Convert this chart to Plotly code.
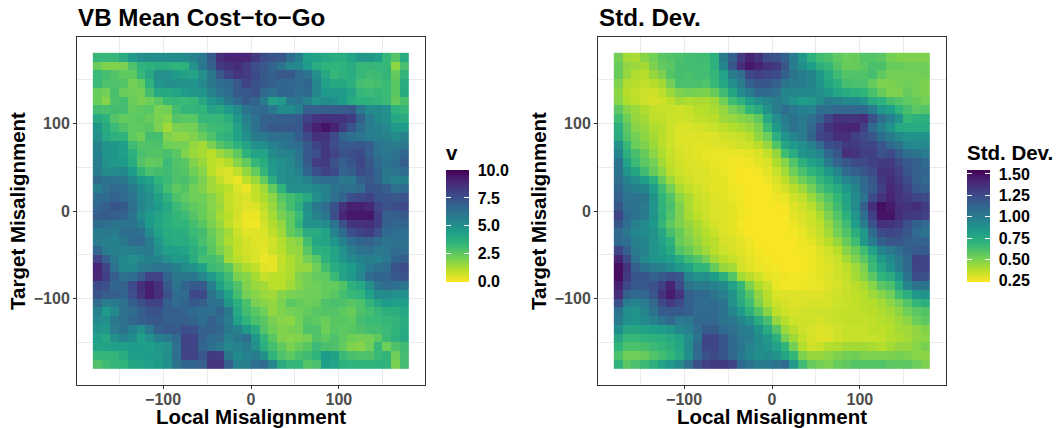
import plotly.graph_objects as go

centers_x = list(range(-175, 176, 10))
centers_y = list(range(175, -176, -10))
major_ticks = [-100, 0, 100]
minor_ticks = [-150, -50, 50, 150]
v_ticks = [0.0, 2.5, 5.0, 7.5, 10.0]
v_labels = ["0.0", "2.5", "5.0", "7.5", "10.0"]
sd_ticks = [0.25, 0.50, 0.75, 1.00, 1.25, 1.50]
sd_labels = ["0.25", "0.50", "0.75", "1.00", "1.25", "1.50"]

mean_cost = [
[3.3,3.3,3.3,3.9,4.6,5.0, 5.1,5.1,5.1,5.2,5.2,5.5, 6.0,7.2,8.7,9.0,9.0,9.0, 8.3,7.7,7.4,7.3,6.5,5.7, 4.4,4.3,4.0,3.8,3.8,4.2, 4.7,4.7,4.4,3.3,2.7,3.8],
[2.3,1.9,1.9,2.0,2.8,3.5, 3.6,3.8,3.7,3.5,3.6,4.9, 6.0,7.0,8.3,8.6,8.8,8.2, 7.6,7.3,6.8,6.2,5.4,5.3, 4.6,3.8,3.5,3.5,3.6,3.8, 3.3,3.3,3.3,3.3,1.7,2.9],
[3.2,3.0,2.7,2.5,2.5,3.3, 4.0,5.0,5.0,4.5,4.3,4.2, 5.0,6.0,7.3,8.0,8.5,8.2, 7.8,7.3,7.0,7.3,7.2,6.6, 6.2,5.0,4.0,3.3,3.6,3.8, 3.3,3.1,3.2,3.4,2.4,3.4],
[3.2,2.8,2.8,2.7,2.1,2.4, 3.6,4.8,5.0,5.0,4.9,4.8, 5.3,6.0,6.4,6.6,7.3,8.0, 7.5,7.2,7.0,6.7,6.7,6.5, 6.7,5.4,4.4,4.0,4.0,3.7, 3.0,2.9,3.0,3.2,2.6,3.8],
[2.3,2.1,2.9,2.3,2.2,2.1, 3.0,4.0,4.0,4.2,4.6,4.7, 4.8,5.5,6.1,6.5,7.2,7.3, 7.5,6.6,6.3,6.8,6.7,6.4, 6.6,5.4,4.6,4.6,4.6,4.2, 3.3,3.2,3.3,3.2,2.6,3.9],
[2.3,1.8,2.8,3.0,2.3,2.0, 2.2,2.6,3.2,3.3,3.2,3.3, 4.0,4.8,5.2,6.0,6.6,7.2, 6.8,5.8,4.3,4.6,6.0,6.2, 5.5,4.8,5.2,5.0,4.5,3.9, 3.6,3.6,3.4,3.2,2.4,2.9],
[3.0,2.9,3.0,3.0,2.4,2.5, 2.6,2.0,2.1,3.0,3.4,3.4, 3.5,4.2,4.0,4.6,5.2,6.2, 6.6,6.6,6.0,5.2,5.2,5.6, 7.0,7.0,7.0,7.0,7.1,7.3, 6.0,5.2,5.2,5.0,3.6,3.3],
[4.0,3.6,2.7,2.4,2.5,2.6, 2.3,2.0,1.8,2.7,2.6,2.6, 3.3,3.3,3.3,3.7,4.7,5.6, 6.3,6.9,6.9,7.0,7.0,7.2, 8.0,8.5,8.7,8.6,8.6,8.2, 7.0,5.8,5.2,5.0,4.0,3.9],
[4.7,3.9,3.2,2.8,2.5,2.5, 2.6,2.0,1.4,2.0,2.1,2.1, 2.8,3.1,3.2,3.3,4.3,5.3, 6.3,6.9,7.3,7.2,7.3,7.2, 8.5,9.1,9.5,9.1,8.3,7.4, 6.5,5.8,5.6,5.3,4.6,4.5],
[5.0,4.0,3.6,3.5,2.5,2.2, 3.0,3.0,1.9,1.7,1.7,1.9, 2.3,2.8,3.4,3.6,4.3,5.0, 5.8,5.9,6.3,6.3,6.4,7.1, 7.8,8.6,8.5,7.7,6.7,6.4, 6.1,5.8,5.7,5.5,5.2,5.5],
[5.5,4.9,4.7,4.4,3.1,2.7, 2.8,2.8,2.2,2.1,2.1,1.6, 1.4,2.0,2.7,3.0,3.6,4.2, 5.0,5.1,5.6,6.0,6.3,6.5, 7.2,8.0,8.3,7.6,7.2,7.2, 7.3,7.0,6.2,6.0,5.8,6.0],
[5.6,4.8,4.7,4.4,3.7,2.9, 2.7,2.7,2.9,2.6,1.9,1.5, 1.3,1.0,1.5,1.8,2.5,3.6, 4.2,4.2,5.2,5.5,5.6,6.2, 7.2,7.6,8.4,8.0,7.5,7.6, 7.7,7.0,6.3,6.0,6.3,6.7],
[5.8,5.0,4.7,4.6,3.9,2.7, 2.4,2.5,3.2,2.7,2.6,1.9, 1.5,1.0,0.8,1.1,1.8,2.4, 3.3,3.8,4.7,5.0,5.3,6.0, 7.2,8.2,8.3,7.5,7.0,7.4, 7.9,7.3,6.6,6.2,6.5,7.0],
[5.8,5.2,5.2,5.3,4.5,3.4, 2.9,3.0,3.1,2.8,2.7,2.2, 1.8,1.0,0.6,0.5,0.9,1.6, 2.4,3.4,4.6,5.0,5.2,5.6, 6.8,7.6,8.0,7.8,6.8,7.0, 7.7,7.4,6.8,6.0,6.1,6.5],
[6.5,6.2,6.2,6.0,5.3,4.6, 4.3,3.5,3.2,2.8,2.9,2.5, 2.0,1.4,0.9,0.5,0.2,1.0, 1.5,2.4,3.8,5.0,5.2,5.2, 5.5,6.3,6.5,6.5,6.0,6.0, 7.0,7.3,6.8,6.0,5.5,5.6],
[5.7,6.3,6.6,6.4,5.9,5.2, 4.7,3.9,3.0,2.5,2.7,2.2, 1.9,1.4,1.2,1.0,0.5,0.2, 0.9,1.4,2.4,3.5,5.0,5.0, 5.0,5.3,5.5,6.2,6.4,6.3, 6.5,7.4,7.3,7.0,6.3,6.5],
[6.5,6.6,6.9,6.6,6.2,5.4, 5.0,4.3,3.6,2.8,2.5,2.2, 2.2,1.8,1.4,0.8,0.6,0.5, 0.8,1.2,1.7,2.6,3.0,3.4, 4.0,5.0,5.5,6.3,6.8,7.6, 7.8,8.0,7.4,7.4,7.3,7.4],
[6.7,7.0,7.4,7.2,6.4,5.4, 5.0,4.5,4.0,3.2,2.8,2.5, 2.3,1.8,1.5,0.9,0.6,0.4, 0.5,0.9,1.5,2.3,3.0,3.7, 5.0,6.0,6.5,7.5,8.6,9.2, 9.1,8.9,7.9,7.5,7.6,7.8],
[7.0,7.1,7.0,6.8,6.2,5.1, 4.5,4.2,3.8,3.4,3.2,2.7, 2.3,1.9,1.3,1.0,0.6,0.2, 0.2,0.7,1.3,2.0,2.5,3.2, 4.8,5.5,6.0,7.6,9.0,9.4, 9.4,9.4,8.2,7.0,7.0,7.2],
[6.5,6.4,6.2,6.2,6.2,5.6, 4.6,4.1,3.7,3.5,3.5,3.0, 2.6,2.0,1.5,0.9,0.5,0.2, 0.1,0.6,1.1,1.6,2.5,3.5, 4.9,4.9,5.2,6.2,7.5,8.5, 8.6,8.7,8.2,7.0,6.7,6.8],
[5.9,6.0,5.8,6.4,6.5,6.3, 5.2,4.3,3.9,3.8,3.7,3.2, 3.0,2.3,1.8,1.4,0.7,0.4, 0.4,0.5,0.9,1.4,2.4,2.8, 3.8,3.8,4.2,5.5,6.6,7.6, 8.0,8.2,7.5,6.6,6.4,6.4],
[5.8,5.7,5.6,6.0,6.5,6.6, 5.8,4.7,4.0,3.8,3.8,3.5, 2.9,2.5,1.8,1.2,0.9,0.6, 0.4,0.4,0.6,1.1,1.6,1.8, 3.0,4.0,4.2,4.8,5.6,6.4, 6.8,6.9,6.6,6.2,6.3,6.3],
[6.7,5.8,5.7,5.6,5.7,5.8, 6.0,5.0,4.4,4.4,4.2,3.7, 3.3,2.6,2.0,1.5,0.8,0.6, 0.5,0.3,0.7,1.0,1.5,1.6, 2.6,3.6,3.7,4.2,5.0,5.7, 6.2,6.3,6.0,6.1,6.5,6.5],
[8.0,7.0,6.0,5.3,5.0,5.3, 5.6,5.5,5.0,4.6,4.7,3.9, 3.0,3.0,2.7,1.4,1.0,0.7, 0.5,0.2,0.3,0.8,1.2,1.5, 2.1,2.6,3.6,4.2,4.8,5.2, 5.6,5.7,5.5,6.0,6.8,7.0],
[9.0,8.0,6.3,5.3,5.3,5.8, 6.0,6.2,6.1,5.7,5.1,4.9, 4.3,3.2,3.0,2.6,1.6,1.2, 0.9,0.4,0.3,0.9,1.2,1.5, 1.6,2.2,3.0,3.8,4.2,4.5, 5.2,5.9,6.3,6.5,7.4,7.7],
[8.9,8.1,7.0,6.3,6.4,7.0, 8.0,8.0,6.8,6.0,6.0,6.0, 5.3,4.6,3.8,3.1,2.0,1.8, 1.3,0.8,1.0,1.0,1.2,1.9, 2.1,2.4,2.5,3.2,4.2,4.6, 5.4,6.5,6.8,6.8,7.2,7.4],
[7.8,7.6,6.7,6.9,7.8,8.7, 9.2,8.6,7.2,6.2,6.8,7.2, 7.2,5.7,4.3,3.5,2.8,1.9, 1.5,1.4,1.0,1.0,1.4,1.8, 2.1,2.2,2.4,2.4,2.7,3.6, 4.0,5.0,6.2,6.5,6.3,6.2],
[7.4,7.1,7.0,6.8,7.6,8.5, 9.2,8.7,7.5,6.5,6.6,7.8, 7.8,6.2,5.3,4.3,3.0,2.1, 1.8,1.5,1.4,1.8,2.0,2.1, 2.2,2.2,2.4,2.6,3.0,3.3, 3.5,4.4,5.2,5.2,5.0,5.0],
[6.5,5.7,5.8,6.3,7.0,7.5, 8.0,8.0,7.0,6.6,6.8,7.2, 7.0,6.3,6.2,4.7,3.7,2.9, 2.0,1.8,1.6,2.0,2.6,2.4, 2.2,2.3,2.8,2.9,2.8,2.6, 2.8,3.4,4.1,4.5,4.4,4.4],
[5.5,4.6,5.2,6.3,6.5,7.0, 7.4,7.5,7.0,7.0,6.8,6.6, 6.4,6.4,6.8,6.0,4.0,3.0, 2.6,2.2,1.6,1.9,2.1,2.2, 2.4,2.6,2.7,2.7,2.5,2.3, 2.8,3.0,3.3,3.7,3.7,4.0],
[5.2,5.0,6.0,6.3,6.7,7.0, 7.2,7.3,7.0,7.0,7.0,6.8, 6.4,7.0,6.5,5.8,4.4,3.5, 2.9,2.6,2.0,1.8,1.7,2.2, 2.6,2.5,2.3,2.6,2.6,2.5, 3.0,3.2,3.2,3.3,3.4,3.8],
[4.8,4.7,5.8,6.2,5.6,5.0, 6.0,7.0,7.2,7.2,7.6,7.5, 6.9,6.9,6.7,6.0,5.5,4.7, 3.9,2.7,2.2,1.9,2.0,2.1, 2.8,2.8,2.2,2.6,2.5,2.6, 2.8,3.0,3.0,3.2,3.5,3.9],
[4.4,4.0,4.9,5.5,5.2,4.4, 5.0,5.7,5.9,6.6,8.0,8.0, 7.0,6.5,6.5,5.5,6.0,6.4, 4.7,3.5,2.6,1.9,1.8,1.9, 2.1,2.7,2.5,2.8,2.5,2.2, 2.1,2.1,2.5,3.2,3.6,4.0],
[4.2,4.3,4.4,4.4,4.5,4.5, 4.4,4.7,4.9,6.3,8.0,7.9, 6.8,6.3,6.0,5.3,5.5,5.8, 5.0,3.7,3.0,2.5,2.0,2.3, 2.6,3.2,2.9,2.8,2.4,1.9, 1.8,2.2,3.3,2.2,2.8,3.1],
[3.3,3.4,3.4,3.8,4.4,4.4, 4.5,4.6,5.0,6.4,8.0,8.0, 7.3,8.3,8.2,6.0,5.2,5.6, 5.8,5.0,3.5,2.8,2.5,2.9, 3.1,3.5,4.5,4.3,3.2,2.9, 2.8,2.8,3.2,3.4,2.2,3.0],
[2.8,3.1,3.3,3.5,4.1,4.2, 4.4,4.5,5.0,6.2,6.7,6.8, 7.0,8.5,8.5,7.0,5.6,5.7, 6.4,6.6,5.4,3.9,3.3,3.4, 2.7,2.9,4.4,4.2,3.6,3.5, 3.5,3.5,3.6,3.5,2.0,3.0],
]

std_dev = [
[.52,.42,.41,.48,.52,.58, .6,.62,.64,.65,.65,.72, 1.0,1.15,1.32,1.42,1.35,1.25, 1.22,1.15,1.0,.85,.72,.65, .62,.57,.54,.55,.6,.6, .58,.52,.5,.5,.5,.5],
[.55,.46,.44,.42,.5,.56, .58,.63,.64,.64,.64,.72, .95,1.2,1.38,1.46,1.42,1.35, 1.33,1.2,1.0,.9,.82,.72, .68,.6,.55,.55,.58,.62, .62,.55,.55,.53,.53,.53],
[.55,.45,.4,.38,.45,.5, .6,.63,.62,.64,.64,.68, .8,1.0,1.07,1.27,1.3,1.27, 1.25,1.15,1.05,1.0,.95,.85, .75,.65,.6,.6,.6,.63, .57,.52,.52,.52,.52,.53],
[.5,.4,.38,.36,.38,.42, .52,.62,.62,.62,.61,.67, .77,.9,1.0,1.15,1.2,1.2, 1.15,1.05,1.0,1.0,.95,.87, .78,.72,.63,.62,.62,.55, .5,.5,.52,.53,.52,.5],
[.47,.38,.36,.34,.33,.37, .44,.5,.52,.51,.5,.55, .65,.78,.92,1.0,1.1,1.1, 1.07,.95,.95,.93,.93,.9, .85,.78,.75,.72,.7,.62, .55,.5,.5,.55,.52,.5],
[.48,.4,.37,.34,.32,.33, .37,.42,.4,.41,.41,.43, .53,.65,.72,.82,.9,.95, 1.0,.95,.88,.82,.85,.92, 1.0,.97,.93,.93,.88,.75, .72,.63,.6,.57,.55,.52],
[.58,.48,.44,.4,.36,.35, .35,.33,.35,.38,.39,.41, .45,.52,.57,.68,.75,.88, 1.0,1.08,1.02,.98,.97,1.08, 1.08,1.12,1.12,1.12,1.1,1.0, .85,.82,.7,.63,.58,.6],
[.65,.53,.45,.42,.37,.36, .34,.33,.34,.36,.37,.38, .43,.45,.48,.5,.57,.76, .9,1.0,1.05,1.02,1.07,1.15, 1.28,1.36,1.35,1.35,1.38,1.22, 1.07,.97,.87,.68,.72,.72],
[.72,.58,.48,.45,.4,.38, .34,.31,.31,.32,.33,.35, .37,.39,.41,.44,.5,.66, .84,.97,1.05,1.0,1.12,1.25, 1.35,1.4,1.42,1.42,1.3,1.1, .98,.88,.77,.75,.75,.75],
[.75,.6,.52,.47,.42,.38, .34,.31,.3,.3,.3,.31, .33,.34,.35,.38,.46,.54, .73,.87,.95,1.0,1.13,1.27, 1.3,1.38,1.38,1.3,1.25,1.2, 1.08,1.0,.92,.88,.88,.88],
[.88,.67,.54,.5,.44,.38, .34,.31,.3,.29,.29,.3, .3,.32,.33,.34,.38,.45, .6,.78,.85,.9,.98,1.1, 1.23,1.25,1.33,1.32,1.28,1.27, 1.2,1.1,1.05,.95,.93,.93],
[.95,.72,.63,.55,.47,.4, .35,.32,.3,.29,.28,.28, .28,.28,.28,.29,.31,.36, .45,.65,.75,.87,.9,.95, 1.1,1.2,1.38,1.35,1.3,1.3, 1.22,1.25,1.15,1.08,1.05,1.0],
[1.05,.8,.66,.58,.52,.42, .36,.33,.31,.3,.29,.28, .27,.26,.26,.27,.29,.31, .4,.48,.6,.72,.8,.85, 1.0,1.13,1.2,1.25,1.25,1.3, 1.32,1.32,1.25,1.18,1.15,1.1],
[1.05,.88,.78,.65,.55,.47, .38,.34,.32,.31,.31,.29, .28,.26,.25,.25,.26,.29, .35,.42,.53,.62,.7,.75, .85,.95,1.1,1.15,1.2,1.25, 1.35,1.35,1.3,1.2,1.15,1.13],
[1.08,.97,.9,.82,.72,.55, .44,.36,.33,.31,.3,.29, .29,.26,.25,.25,.25,.27, .31,.37,.45,.53,.6,.68, .75,.85,.95,1.02,1.12,1.2, 1.33,1.38,1.32,1.25,1.15,1.12],
[1.12,1.02,.98,.95,.82,.65, .52,.41,.36,.33,.31,.29, .29,.27,.26,.25,.25,.25, .29,.32,.38,.43,.52,.62, .68,.75,.85,.95,1.1,1.17, 1.3,1.4,1.35,1.28,1.18,1.15],
[1.15,1.05,1.05,1.05,.88,.7, .6,.47,.41,.35,.33,.3, .29,.28,.26,.25,.25,.25, .27,.28,.33,.36,.44,.52, .6,.68,.8,.92,1.05,1.25, 1.35,1.42,1.35,1.32,1.28,1.25],
[1.2,1.07,1.05,1.02,.87,.7, .62,.5,.41,.35,.33,.31, .3,.29,.27,.25,.25,.25, .25,.26,.3,.33,.38,.46, .55,.65,.78,.92,1.15,1.38, 1.5,1.45,1.38,1.35,1.38,1.32],
[1.27,1.1,1.05,1.0,.87,.72, .6,.5,.42,.37,.34,.31, .3,.29,.27,.25,.25,.25, .25,.25,.29,.31,.34,.4, .5,.6,.72,.87,1.08,1.3, 1.48,1.48,1.38,1.33,1.32,1.3],
[1.2,1.08,.98,.93,.85,.68, .57,.5,.45,.41,.36,.32, .3,.29,.26,.25,.25,.25, .25,.25,.27,.3,.33,.37, .45,.55,.65,.82,1.0,1.22, 1.38,1.36,1.32,1.22,1.15,1.1],
[1.1,1.03,.95,.92,.88,.77, .63,.55,.48,.42,.39,.35, .31,.29,.27,.25,.25,.25, .25,.25,.26,.28,.32,.36, .42,.52,.6,.73,.85,1.1, 1.25,1.27,1.25,1.2,1.1,1.05],
[1.1,1.08,.98,.95,.88,.8, .72,.55,.5,.45,.4,.38, .32,.31,.29,.27,.25,.25, .25,.25,.25,.27,.29,.33, .38,.45,.55,.65,.85,1.0, 1.15,1.2,1.2,1.15,1.15,1.13],
[1.28,1.15,1.0,.96,.88,.83, .76,.6,.55,.48,.43,.38, .34,.32,.3,.28,.26,.25, .25,.25,.25,.26,.27,.3, .33,.38,.48,.55,.65,.8, .95,1.02,1.08,1.15,1.18,1.18],
[1.42,1.25,1.05,.93,.87,.85, .82,.75,.65,.6,.52,.43, .38,.35,.32,.29,.27,.26, .25,.25,.25,.25,.27,.29, .32,.35,.42,.5,.58,.7, .85,.93,1.02,1.1,1.3,1.28],
[1.5,1.35,1.15,1.05,1.0,.98, .92,.85,.8,.7,.68,.55, .45,.42,.33,.3,.28,.27, .26,.25,.25,.25,.27,.29, .3,.33,.37,.43,.5,.66, .78,.88,1.0,1.1,1.28,1.28],
[1.5,1.33,1.2,1.2,1.15,1.18, 1.22,1.2,.95,.88,.9,.83, .73,.6,.42,.38,.33,.29, .28,.27,.26,.26,.28,.29, .31,.33,.36,.42,.48,.58, .7,.75,.87,1.05,1.25,1.22],
[1.43,1.27,1.18,1.18,1.22,1.3, 1.42,1.25,1.05,1.0,1.0,.97, .92,.8,.68,.5,.4,.35, .28,.26,.26,.27,.28,.28, .3,.32,.35,.38,.41,.48, .58,.62,.76,.95,1.05,1.05],
[1.38,1.15,1.1,1.12,1.2,1.35, 1.45,1.35,1.15,1.12,1.1,1.05, .98,.88,.72,.6,.46,.38, .31,.3,.3,.3,.3,.3, .32,.33,.35,.37,.39,.43, .48,.53,.65,.73,.86,.88],
[1.22,1.0,.95,1.0,1.12,1.25, 1.32,1.25,1.15,1.1,1.08,1.1, 1.05,.88,.75,.65,.5,.4, .34,.32,.3,.31,.32,.32, .32,.34,.35,.36,.38,.39, .42,.47,.52,.6,.68,.72],
[1.05,.9,.87,.95,1.05,1.18, 1.18,1.18,1.15,1.1,1.1,1.1, 1.05,.95,.85,.72,.6,.48, .37,.33,.32,.33,.33,.34, .34,.35,.36,.36,.37,.38, .4,.42,.47,.53,.58,.6],
[1.0,.9,.87,.92,.98,1.05, 1.12,1.02,1.03,1.12,1.12,1.12, 1.05,1.02,.95,.88,.75,.63, .45,.38,.34,.33,.33,.32, .34,.35,.36,.36,.36,.37, .39,.4,.43,.47,.54,.57],
[.9,.78,.78,.8,.82,.83, .86,.94,.98,1.07,1.17,1.17, 1.1,1.07,1.02,.98,.88,.75, .6,.44,.38,.34,.32,.3, .31,.33,.35,.35,.35,.37, .37,.39,.42,.43,.46,.49],
[.78,.67,.67,.7,.72,.72, .76,.8,.9,1.05,1.27,1.27, 1.2,1.1,1.03,1.0,.92,.85, .73,.52,.43,.36,.32,.3, .3,.33,.35,.35,.35,.35, .36,.39,.4,.42,.46,.47],
[.7,.62,.62,.63,.66,.68, .72,.78,.92,1.1,1.27,1.27, 1.2,1.1,1.05,.97,.92,.88, .8,.7,.52,.39,.33,.35, .39,.4,.42,.42,.42,.41, .39,.42,.45,.45,.48,.51],
[.62,.53,.53,.55,.6,.64, .68,.75,.9,1.1,1.22,1.25, 1.2,1.12,1.02,.95,.9,.92, .88,.78,.68,.5,.45,.45, .47,.5,.52,.53,.5,.5, .5,.5,.52,.5,.48,.47],
[.7,.58,.62,.66,.72,.8, .85,.92,1.07,1.22,1.3,1.32, 1.32,1.27,1.1,1.05,1.0,1.02, 1.05,1.1,.85,.65,.55,.52, .5,.55,.57,.6,.6,.6, .6,.58,.57,.58,.54,.5],
]

W, H = 1057, 428
FONT = "Liberation Sans"
PX = lambda p: p / W
PY = lambda p: 1 - p / H
V_RANGE = (-0.06, 10.05)
SD_RANGE = (0.24, 1.55)
BAR_LEN = 111.7
TITLE_ROOM = 28
BAR_W = 23

def main_bar(left, ticks, labels, title):
    # invisible outside ticks only hold the labels at the reference's distance from the bar
    return dict(
        x=PX(left), xanchor="left", xref="paper",
        y=PY(281.7), yanchor="bottom", yref="paper",
        len=BAR_LEN + TITLE_ROOM, lenmode="pixels",
        thickness=BAR_W, thicknessmode="pixels", xpad=0, ypad=0,
        outlinewidth=0, borderwidth=0,
        ticks="outside", ticklen=6, tickcolor="white", tickwidth=1,
        tickvals=ticks, ticktext=labels,
        tickfont=dict(family=FONT, size=16, color="black", weight="bold"),
        title=dict(text=title, side="top", font=dict(family=FONT, size=20.5, color="black", weight="bold")),
    )

def tick_bar(left, ticks):
    return dict(
        x=PX(left), xanchor="left", xref="paper",
        y=PY(281.7), yanchor="bottom", yref="paper",
        len=BAR_LEN, lenmode="pixels",
        thickness=5, thicknessmode="pixels", xpad=0, ypad=0,
        outlinewidth=0, borderwidth=0,
        ticks="inside", ticklen=5, tickcolor="white", tickwidth=1,
        tickvals=ticks, showticklabels=False,
    )

fig = go.Figure()
fig.add_trace(go.Heatmap(x=centers_x, y=centers_y, z=mean_cost, zmin=V_RANGE[0], zmax=V_RANGE[1],
                         colorscale="Viridis", reversescale=True, xaxis="x", yaxis="y",
                         colorbar=main_bar(446, v_ticks, v_labels, "v")))
fig.add_trace(go.Heatmap(x=centers_x, y=centers_y, z=std_dev, zmin=SD_RANGE[0], zmax=SD_RANGE[1],
                         colorscale="Viridis", reversescale=True, xaxis="x2", yaxis="y2",
                         colorbar=main_bar(967, sd_ticks, sd_labels, "Std. Dev.")))
# thin twin colour bars draw the white tick marks on both edges of each bar
for left, rng, ticks, ax, ay in [(446, V_RANGE, v_ticks, "x", "y"), (967, SD_RANGE, sd_ticks, "x2", "y2")]:
    for edge in (left, left + BAR_W - 5):
        fig.add_trace(go.Scatter(x=[None], y=[None], mode="markers", xaxis=ax, yaxis=ay, hoverinfo="skip",
                                 showlegend=False,
                                 marker=dict(color=[rng[0]], cmin=rng[0], cmax=rng[1], colorscale="Viridis",
                                             reversescale=True, showscale=True,
                                             colorbar=tick_bar(edge, ticks))))

def axis(domain, anchor, title, standoff, label_shift=0):
    return dict(
        domain=domain, anchor=anchor, range=[-198, 198], showline=True, mirror=True,
        linecolor="#333333", linewidth=1, ticks="outside", ticklen=3, tickcolor="#333333", tickwidth=1,
        tickvals=major_ticks, showgrid=True, gridcolor="#ebebeb", gridwidth=1, zeroline=False,
        ticklabelstandoff=label_shift,
        minor=dict(tickvals=minor_ticks, showgrid=True, gridcolor="#ebebeb", gridwidth=0.5, ticks=""),
        tickfont=dict(family=FONT, size=16, color="#4d4d4d", weight="bold"),
        title=dict(text=title, standoff=standoff, font=dict(family=FONT, size=20.5, color="black", weight="bold")),
    )

ydom = [PY(385), PY(37)]
fig.update_layout(
    width=W, height=H, autosize=False, paper_bgcolor="white", plot_bgcolor="white",
    margin=dict(l=0, r=0, t=0, b=0),
    xaxis=axis([PX(77), PX(425)], "y", "Local Misalignment", 4, -3),
    yaxis=axis(ydom, "x", "Target Misalignment", 2),
    xaxis2=axis([PX(598), PX(946)], "y2", "Local Misalignment", 4, -3),
    yaxis2=axis(ydom, "x2", "Target Misalignment", 2),
    annotations=[
        dict(text="VB Mean Cost\u2212to\u2212Go", x=PX(76), y=PY(17), xref="paper", yref="paper",
             xanchor="left", yanchor="middle", showarrow=False,
             font=dict(family=FONT, size=24.2, color="black", weight="bold")),
        dict(text="Std. Dev.", x=PX(597), y=PY(17), xref="paper", yref="paper",
             xanchor="left", yanchor="middle", showarrow=False,
             font=dict(family=FONT, size=24.2, color="black", weight="bold")),
    ],
)

fig.write_html("out.html", config=dict(displayModeBar=False), post_script="document.body.style.margin='0';")
